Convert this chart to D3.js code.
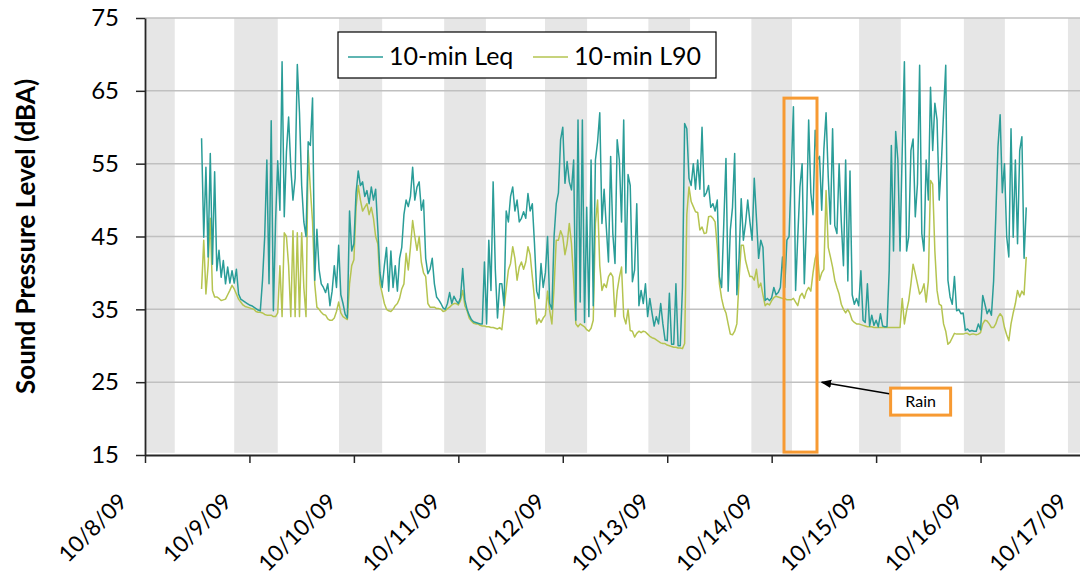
<!DOCTYPE html>
<html>
<head>
<meta charset="utf-8">
<script src="https://cdn.jsdelivr.net/npm/d3@7"></script>
<style>
  body { margin: 0; background: #fff; }
  svg { display: block; font-family: Lato, "Open Sans", sans-serif; }
</style>
</head>
<body>
<script>
// 10-min noise levels, read every 30 minutes starting 10/8/09 13:00
const startTime = "2009-10-08T13:00";
const stepMinutes = 30;

const leq = [
  58.5, 44.9, 54.5, 42.2, 56.4, 41.2, 53.9, 40.3, 43.1, 39.4, 41.7, 38.5, 40.8, 38.6, 40.3, 38.6, 40.5, 37.1, 36.4, 36.2, 36.0, 35.8, 35.6, 35.5, 35.3, 35.1, 34.9,
  34.8, 39, 44.9, 55.5, 38.5, 60.9, 34.8, 47, 55.4, 48.6, 69, 47.7, 56.6, 61.4, 54.5, 50, 53, 68.6, 62, 52, 47, 45, 58, 57.5, 64, 39, 46, 40.5, 38.5, 38, 37.3, 38.5, 35.5, 37.5, 41, 38, 43.8, 37, 35.8, 34.3, 33.8, 48.5, 43, 44, 51, 54, 52, 52.5, 50.5, 51.3, 49.5, 51.8, 50, 51.5, 46, 40, 38, 41, 43.5, 37.5, 43, 38, 41, 37.5, 42, 43.5, 48,
  50, 49.1, 50.5, 54.5, 50, 51.8, 52.5, 48.6, 50, 42, 39.9, 40.5, 42, 38.5, 36.7, 36.3, 35.8, 35.2, 35, 35.8, 37.3, 35.8, 36.8, 36.2, 35.8, 36.6, 40.6, 36.3, 35, 34.2,
  33.6, 33.3, 33.2, 33.1, 33, 33, 41.5, 33, 44.5, 37.6, 52.5, 40.4, 33.8, 38.5, 38.5, 35.5, 48.5, 47, 50.5, 51.8, 48.5, 50, 47, 47.5, 48.4, 47.5, 50.9, 48.5, 49.5, 44,
  37.5, 36.5, 41.3, 38, 40, 45, 35.8, 35, 45, 49.5, 51, 58.3, 60, 52.3, 55.3, 52.5, 51.4, 55.5, 33.5, 61, 36, 61, 33.2, 49, 34, 55.5, 35.5, 55.5, 58, 62, 46.8, 51.5, 46.3, 41.5, 56, 45.4,
  41.3, 58.3, 55.5, 47, 61, 40, 53.5, 52, 38.8, 40.4, 49.5, 35.5, 37.6, 35.8, 38.5, 34, 36.5, 34.5, 32.7, 34, 33, 35.8, 33, 30.8, 30.7, 37.2, 30.2, 30.2, 38.5, 30,
  30, 38, 60.5, 59.8, 53, 52, 55, 51.5, 55.5, 51.5, 60, 50.5, 51, 52, 49, 49.5, 48.5, 50, 39.5, 38, 46.8, 55.7, 37.5, 45.9, 49, 56.4, 37, 42, 50.2, 44.5,
  46.8, 50, 47, 44.5, 53, 47.5, 42, 44.5, 43.5, 36.2, 36.5, 36.2, 36.6, 38, 37, 37.3, 38, 42.2, 38, 44.5, 45, 53.7, 62.8, 37.6, 45, 51.8, 55, 38.5, 47, 61,
  51, 48, 59.6, 55.5, 56, 48.6, 57,
  62, 53.2, 46.7, 59.8, 46.5, 45.4, 55, 47, 41, 55.5, 38.9, 54, 37, 35.7, 36.5, 35.5, 40.3, 33.5, 33.2, 38.5, 32.7, 34.2, 32.8, 33.5, 32.6, 34.4, 32.7, 32.6, 32.6, 40.3,
  57.5, 43, 59.4, 55.5, 43, 56.8, 69, 43, 45, 56.8, 58.4, 47.7, 52.2, 68.5, 45.4, 43, 55.5, 50, 65.5, 56.8, 63.3, 61, 50, 55, 62, 68.5, 39, 36.7, 35.7, 39.5,
  34.8, 35, 34.4, 34.5, 32.1, 32.3, 32, 32.1, 32, 32, 33, 32.2, 36.9, 35.7, 34.4, 35, 34.2, 38.9, 47.7, 57.3, 61.7, 51, 55, 45, 42.2, 59.8, 44.9, 55.5, 44, 56.8,
  58.7, 42, 49
];

const l90 = [
  37.8, 44.5, 37.1, 41, 47.5, 37.6, 36.7, 36.7, 36.5, 36.2, 36.3, 36.4, 37, 37.6, 38.3, 37.8, 37.1, 36.4, 36, 35.6, 35.4, 35.3, 35.2, 35.1, 35, 34.7, 34.6,
  34.6, 34.5, 34.3, 34.2, 34.2, 34.2, 34, 34, 34.5, 41, 34, 45.5, 45, 41, 34, 45.8, 34, 45.5, 34, 45.5, 38, 34, 56.8, 51.5, 47, 38.5, 35.3, 35, 34.6, 34.3, 34.2, 33.7, 33.5, 33.5, 33.8, 34.7, 36, 34.5, 34, 33.8, 33.6, 38.5, 41, 41.8, 49, 52, 50, 48.5, 49, 49.5, 48, 49, 47.5, 45, 44, 38.5, 37.2, 35.8, 35, 34.8, 34.7, 35, 35.5, 35.8, 36.5, 37.8, 38.5,
  42.7, 40.4, 43.5, 47.2, 45, 43.1, 45, 41.5, 40, 39.5, 35.8, 35.3, 35.3, 35.3, 35.1, 35.1, 35, 34.7, 34.8, 35.1, 35.3, 35.6, 35.8, 35.8, 35.6, 36.2, 37.6, 35.5, 34.8, 33.8,
  33.4, 33.1, 33, 33, 32.8, 32.7, 32.7, 32.6, 32.6, 32.5, 32.5, 32.4, 32.3, 32.5, 32.2, 35, 37.8, 40.4, 41.3, 43.6, 42, 39, 40.8, 41.5, 40.5, 41.5, 43.6, 42.5, 39.5, 36.5,
  33, 33.7, 33.2, 33.8, 34.2, 37.5, 34.8, 33, 38, 44.5, 44.5, 45.8, 45, 42.5, 44, 46.8, 44, 39, 33, 32.6, 33, 32.8, 32.6, 32.2, 32, 32.4, 33.5, 46.8, 50, 41, 37.6, 38.5, 38, 39.5, 40, 39.5,
  34, 37.5, 39.4, 40.8, 34, 33, 35, 32.1, 32, 31.2, 31.7, 32, 31.8, 32, 31.9, 31.6, 31.3, 31.1, 31, 30.8, 30.6, 30.4, 30.3, 30.3, 30.1, 30, 29.9, 29.8, 29.8, 29.7,
  29.7, 29.6, 30.3, 48, 51.8, 49.8, 49.1, 48.4, 48.3, 45.9, 46.3, 45.4, 45.5, 47.7, 47.8, 47.5, 47, 43.5, 38.5, 36.5, 35.2, 34.5, 33, 31.6, 31.5, 32, 33, 39, 43.8, 43.8,
  41.7, 40.5, 39.5, 39.5, 39, 40.5, 38, 38.6, 37, 35.5, 35.8, 35.6, 36.2, 36.6, 36.8, 36.7, 36.6, 36.5, 36.5, 36.3, 36.3, 36.3, 36.5, 36, 35.5, 36.8, 37.2, 36.5, 37.5, 38,
  37.5, 40, 42, 43, 39, 40, 40.5,
  51.3, 43.5, 42.2, 40.8, 39, 38, 37.1, 35.7, 35, 34.5, 35, 34.4, 33.5, 33.2, 33, 33, 32.9, 32.8, 32.7, 32.6, 32.6, 32.6, 32.5, 32.5, 32.5, 32.5, 32.5, 32.5, 32.5, 32.5,
  32.5, 32.5, 32.5, 32.5, 32.5, 36.5, 33, 34.8, 36.2, 38.5, 41.2, 39.9, 38.5, 37.1, 37.5, 38.5, 36, 38.9, 52.7, 52.2, 43, 37.6, 35.7, 35.5, 33, 32, 30.2, 30.5, 31.1, 31.7,
  31.6, 31.6, 31.6, 31.6, 31.7, 31.7, 31.5, 31.6, 31.6, 31.5, 31.6, 31.8, 33, 33.5, 33.4, 33, 32.5, 32.5, 33, 33.9, 34.4, 34, 32.5, 31.5, 30.7, 33, 34.5, 35.8, 37.6, 36.7,
  37.5, 37, 42.2
];

// night-time shading (start, end)
const nights = [
  ["2009-10-07T20:30", "2009-10-08T06:50"],
  ["2009-10-08T20:30", "2009-10-09T06:30"],
  ["2009-10-09T20:35", "2009-10-10T06:30"],
  ["2009-10-10T20:45", "2009-10-11T06:20"],
  ["2009-10-11T19:55", "2009-10-12T05:35"],
  ["2009-10-12T19:40", "2009-10-13T05:15"],
  ["2009-10-13T19:20", "2009-10-14T04:40"],
  ["2009-10-14T20:05", "2009-10-15T05:40"],
  ["2009-10-15T20:10", "2009-10-16T05:35"],
  ["2009-10-16T20:05", "2009-10-17T06:00"]
];

const dayTicks = ["2009-10-08", "2009-10-09", "2009-10-10", "2009-10-11", "2009-10-12",
                  "2009-10-13", "2009-10-14", "2009-10-15", "2009-10-16", "2009-10-17"];
const yTicks = [15, 25, 35, 45, 55, 65, 75];

// rain period annotation
const rainSpan = ["2009-10-14T02:50", "2009-10-14T10:25"];
const rainLevels = [15.4, 64];
const rainArrowTip = ["2009-10-14T11:30", 25];
const rainLabelAt = ["2009-10-15T03:20", 22.4];

const seriesNames = ["10-min Leq", "10-min L90"];
const colors = ["#2a9d98", "#b5c450"];

const width = 1080, height = 575;
const margin = { top: 18, right: 0, bottom: 120, left: 145 };

const parseTime = d3.timeParse("%Y-%m-%dT%H:%M");
const parseDay = d3.timeParse("%Y-%m-%d");
const t0 = parseTime(startTime);
const timeAt = i => d3.timeMinute.offset(t0, i * stepMinutes);

const svg = d3.select("body").append("svg")
  .attr("width", width)
  .attr("height", height);

const x = d3.scaleTime()
  .domain([parseDay(dayTicks[0]), parseDay(dayTicks[dayTicks.length - 1])])
  .range([margin.left, 1085]);

const y = d3.scaleLinear()
  .domain([15, 75])
  .range([455, margin.top]);

svg.append("clipPath").attr("id", "plot")
  .append("rect")
  .attr("x", margin.left).attr("y", 0)
  .attr("width", width - margin.left).attr("height", 456);

const plot = svg.append("g").attr("clip-path", "url(#plot)");

// night bands
plot.selectAll("rect.night")
  .data(nights)
  .join("rect")
  .attr("class", "night")
  .attr("x", d => x(parseTime(d[0])))
  .attr("width", d => x(parseTime(d[1])) - x(parseTime(d[0])))
  .attr("y", y(75))
  .attr("height", y(15.3) - y(75))
  .attr("fill", "#e6e6e6");

// gridlines
plot.selectAll("line.grid")
  .data(yTicks.slice(1))
  .join("line")
  .attr("class", "grid")
  .attr("x1", margin.left).attr("x2", width)
  .attr("y1", d => y(d)).attr("y2", d => y(d))
  .attr("stroke", "#c0c0c0")
  .attr("stroke-width", 1.5);

// series lines
const line = d3.line()
  .x((d, i) => x(timeAt(i)))
  .y(d => y(d));

[l90, leq].forEach((values, k) => {
  plot.append("path")
    .datum(values)
    .attr("d", line)
    .attr("fill", "none")
    .attr("stroke", k === 0 ? colors[1] : colors[0])
    .attr("stroke-width", 1.5)
    .attr("stroke-linejoin", "round");
});

// rain box
svg.append("rect")
  .attr("x", x(parseTime(rainSpan[0])))
  .attr("y", y(rainLevels[1]))
  .attr("width", x(parseTime(rainSpan[1])) - x(parseTime(rainSpan[0])))
  .attr("height", y(rainLevels[0]) - y(rainLevels[1]))
  .attr("fill", "none")
  .attr("stroke", "#f79a32")
  .attr("stroke-width", 3);

// axes
const xAxis = svg.append("g")
  .attr("transform", `translate(0,${y(15)})`)
  .call(d3.axisBottom(x)
    .tickValues(dayTicks.map(parseDay))
    .tickFormat(d3.timeFormat("%-m/%-d/%y"))
    .tickSize(8)
    .tickSizeOuter(0));

xAxis.select(".domain").attr("stroke", "#262626").attr("stroke-width", 1.8);
xAxis.selectAll(".tick line").attr("stroke", "#262626").attr("stroke-width", 1.5);
xAxis.selectAll(".tick text")
  .attr("x", 0).attr("y", 0).attr("dy", 0)
  .attr("text-anchor", "end")
  .attr("transform", "translate(-17,48) rotate(-45)")
  .attr("font-family", "Lato, sans-serif")
  .attr("font-size", 22.5)
  .attr("fill", "#000");

const yAxis = svg.append("g")
  .attr("transform", `translate(${margin.left},0)`)
  .call(d3.axisLeft(y)
    .tickValues(yTicks)
    .tickSize(9)
    .tickPadding(17)
    .tickSizeOuter(0));

yAxis.select(".domain").attr("stroke", "#262626").attr("stroke-width", 1.8);
yAxis.selectAll(".tick line").attr("stroke", "#262626").attr("stroke-width", 1.5);
yAxis.selectAll(".tick text")
  .attr("font-family", "Lato, sans-serif")
  .attr("font-size", 24)
  .attr("fill", "#000");

// y axis title
svg.append("text")
  .attr("transform", `translate(35,${(y(15) + y(75)) / 2}) rotate(-90)`)
  .attr("text-anchor", "middle")
  .attr("font-size", 26)
  .attr("font-weight", "bold")
  .text("Sound Pressure Level (dBA)");

// rain label and arrow
svg.append("defs").append("marker")
  .attr("id", "arrow")
  .attr("viewBox", "0 0 10 10")
  .attr("refX", 9).attr("refY", 5)
  .attr("markerWidth", 7).attr("markerHeight", 7)
  .attr("orient", "auto")
  .append("path")
  .attr("d", "M0,1 L10,5 L0,9 Z")
  .attr("fill", "#000");

const labelX = x(parseTime(rainLabelAt[0]));
const labelY = y(rainLabelAt[1]);

svg.append("line")
  .attr("x1", labelX).attr("y1", labelY - 7)
  .attr("x2", x(parseTime(rainArrowTip[0]))).attr("y2", y(rainArrowTip[1]))
  .attr("stroke", "#000")
  .attr("stroke-width", 1.5)
  .attr("marker-end", "url(#arrow)");

svg.append("rect")
  .attr("x", labelX).attr("y", labelY - 13)
  .attr("width", 60).attr("height", 27)
  .attr("fill", "#fff")
  .attr("stroke", "#f79a32")
  .attr("stroke-width", 3);

svg.append("text")
  .attr("x", labelX + 30).attr("y", labelY + 6)
  .attr("text-anchor", "middle")
  .attr("font-size", 16)
  .text("Rain");

// legend
const legend = svg.append("g").attr("transform", "translate(338,32)");
legend.append("rect")
  .attr("width", 378).attr("height", 46)
  .attr("fill", "#fff")
  .attr("stroke", "#000")
  .attr("stroke-width", 1.2);

const legendX = [10, 195];
seriesNames.forEach((name, i) => {
  legend.append("line")
    .attr("x1", legendX[i]).attr("x2", legendX[i] + 35)
    .attr("y1", 25).attr("y2", 25)
    .attr("stroke", colors[i])
    .attr("stroke-width", 1.5);
  legend.append("text")
    .attr("x", legendX[i] + 41).attr("y", 33)
    .attr("font-size", 25)
    .text(name);
});
</script>
</body>
</html>
